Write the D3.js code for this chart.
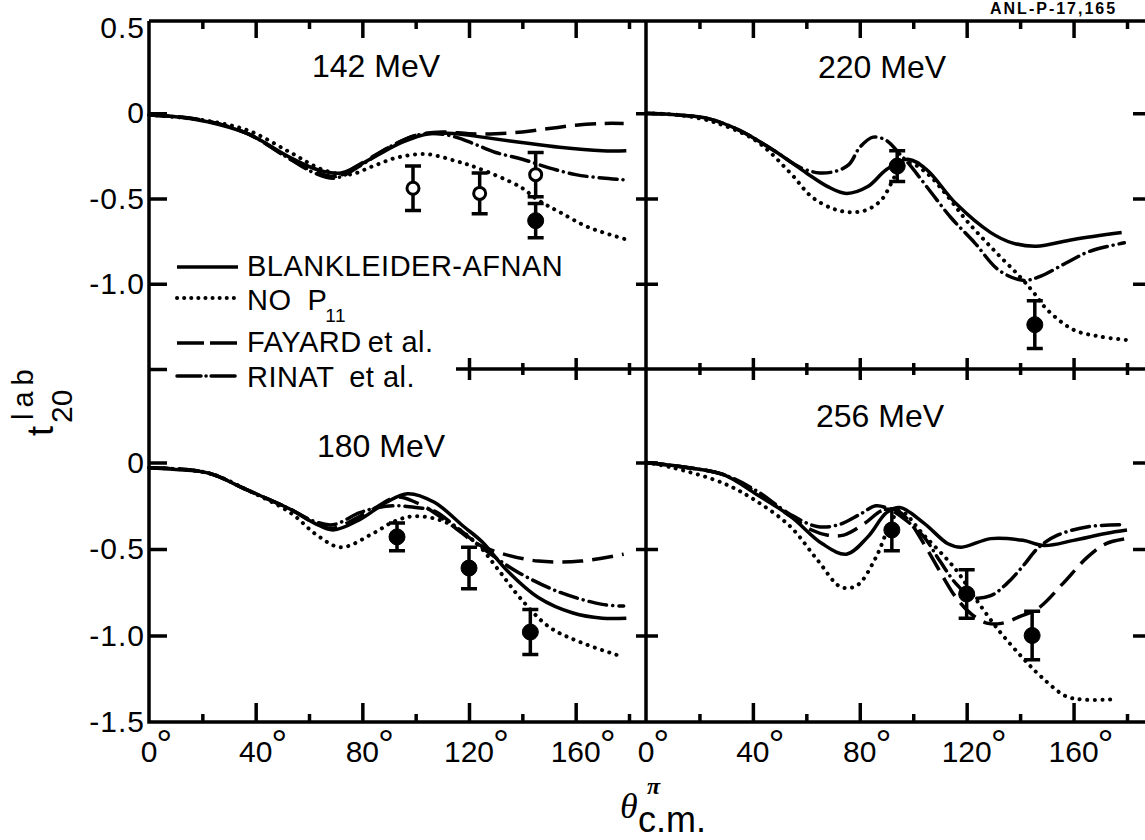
<!DOCTYPE html>
<html>
<head>
<meta charset="utf-8">
<script src="https://cdn.jsdelivr.net/npm/d3@7"></script>
<style>
body { margin: 0; background: #fff; }
svg { display: block; }
text { font-family: "Liberation Sans", Arial, sans-serif; fill: #000; }
</style>
</head>
<body>
<svg id="chart" width="1145" height="840"></svg>
<script>
// ---------- tick values / labels ----------
var thetaMajor = [40, 80, 120, 160];
var thetaMinor = [20, 60, 100, 140, 180];
var thetaLabels = [0, 40, 80, 120, 160];
var tTicks = [0, -0.5, -1.0];
var topLabelValues = [0.5, 0, -0.5, -1.0];
var topLabels = ["0.5", "0", "-0.5", "-1.0"];
var bottomLabelValues = [0, -0.5, -1.0, -1.5];
var bottomLabels = ["0", "-0.5", "-1.0", "-1.5"];
var legendNames = ["BLANKLEIDER-AFNAN", "NO", "FAYARD", "RINAT"];

// ---------- 142 MeV : [theta, t20] ----------
var mev142_blank = [[0,-0.01],[10,-0.02],[22,-0.05],[37,-0.12],[53,-0.26],[63,-0.33],[72,-0.35],[84,-0.26],[95,-0.17],[105,-0.12],[115,-0.12],[125,-0.14],[139,-0.17],[154,-0.20],[170,-0.22],[179,-0.22]];
var mev142_noP11 = [[0,-0.01],[20,-0.04],[37,-0.10],[53,-0.23],[65,-0.33],[75,-0.36],[84,-0.31],[93,-0.26],[104,-0.24],[115,-0.28],[123,-0.32],[139,-0.43],[146,-0.51],[154,-0.58],[165,-0.67],[179,-0.74]];
var mev142_fayard = [[0,-0.01],[20,-0.04],[37,-0.12],[53,-0.27],[62,-0.34],[70,-0.37],[80,-0.29],[90,-0.20],[100,-0.13],[110,-0.11],[120,-0.12],[130,-0.12],[140,-0.11],[150,-0.09],[160,-0.07],[170,-0.06],[178,-0.06]];
var mev142_rinat = [[0,-0.01],[20,-0.04],[37,-0.12],[53,-0.27],[62,-0.35],[70,-0.38],[80,-0.30],[90,-0.20],[100,-0.13],[108,-0.12],[115,-0.14],[122,-0.18],[130,-0.23],[140,-0.27],[150,-0.32],[160,-0.36],[170,-0.38],[178,-0.39]];
var mev142_open = [[99,-0.44,0.13],[124,-0.47,0.12],[145,-0.36,0.13]];
var mev142_filled = [[145,-0.63,0.10]];

// ---------- 220 MeV ----------
var mev220_blank = [[0,0.0],[12,-0.01],[23,-0.03],[35,-0.10],[48,-0.22],[60,-0.35],[68,-0.43],[75,-0.47],[83,-0.43],[90,-0.33],[98,-0.27],[105,-0.33],[116,-0.53],[129,-0.70],[137,-0.76],[146,-0.78],[160,-0.74],[178,-0.70]];
var mev220_noP11 = [[0,0.0],[12,-0.01],[25,-0.05],[41,-0.16],[54,-0.35],[62,-0.49],[70,-0.56],[76,-0.58],[82,-0.57],[88,-0.51],[94,-0.35],[98,-0.29],[105,-0.35],[112,-0.47],[120,-0.63],[130,-0.80],[140,-0.96],[145,-1.05],[150,-1.15],[160,-1.27],[170,-1.31],[180,-1.33]];
var mev220_rinat = [[0,0.0],[12,-0.01],[23,-0.03],[35,-0.10],[48,-0.22],[58,-0.32],[65,-0.35],[71,-0.34],[76,-0.30],[80,-0.20],[85,-0.14],[90,-0.16],[95,-0.24],[98,-0.29],[106,-0.45],[114,-0.61],[123,-0.76],[132,-0.92],[141,-0.98],[147,-0.96],[157,-0.88],[166,-0.81],[179,-0.76]];
var mev220_filled = [[94,-0.31,0.09],[145.5,-1.24,0.14]];

// ---------- 180 MeV ----------
var mev180_blank = [[0,-0.03],[10,-0.04],[22,-0.06],[37,-0.16],[53,-0.27],[62,-0.35],[69,-0.39],[79,-0.33],[89,-0.23],[97,-0.18],[107,-0.23],[118,-0.37],[125,-0.46],[134,-0.62],[146,-0.78],[159,-0.87],[170,-0.90],[179,-0.90]];
var mev180_noP11 = [[0,-0.03],[22,-0.06],[37,-0.16],[53,-0.29],[63,-0.42],[72,-0.49],[84,-0.41],[92,-0.34],[100,-0.31],[112,-0.35],[123,-0.47],[131,-0.62],[139,-0.78],[150,-0.95],[162,-1.04],[177,-1.12]];
var mev180_fayard = [[0,-0.03],[22,-0.06],[37,-0.16],[53,-0.27],[62,-0.35],[69,-0.38],[78,-0.32],[84,-0.27],[93,-0.20],[100,-0.23],[107,-0.29],[115,-0.38],[123,-0.47],[131,-0.52],[146,-0.57],[162,-0.57],[178,-0.53]];
var mev180_rinat = [[0,-0.03],[22,-0.06],[37,-0.16],[53,-0.27],[62,-0.34],[69,-0.36],[79,-0.29],[86,-0.26],[93,-0.25],[100,-0.26],[107,-0.28],[115,-0.37],[123,-0.47],[130,-0.55],[139,-0.64],[154,-0.75],[170,-0.82],[178,-0.83]];
var mev180_filled = [[93,-0.43,0.08],[120,-0.61,0.12],[143,-0.98,0.13]];

// ---------- 256 MeV ----------
var mev256_blank = [[0,0.0],[16,-0.03],[29,-0.07],[41,-0.18],[54,-0.31],[66,-0.47],[75,-0.53],[83,-0.43],[90,-0.29],[95,-0.26],[104,-0.35],[113,-0.47],[118,-0.49],[129,-0.44],[141,-0.45],[149,-0.48],[160,-0.45],[172,-0.41],[180,-0.39]];
var mev256_noP11 = [[0,0.0],[10,-0.03],[29,-0.12],[41,-0.22],[54,-0.37],[64,-0.56],[73,-0.72],[79,-0.71],[86,-0.55],[91,-0.37],[95,-0.28],[104,-0.42],[116,-0.62],[123,-0.78],[132,-0.97],[141,-1.13],[148,-1.24],[157,-1.35],[163,-1.37],[174,-1.37]];
var mev256_fayard = [[0,0.0],[16,-0.03],[29,-0.07],[41,-0.17],[54,-0.31],[62,-0.39],[68,-0.42],[74,-0.42],[82,-0.35],[88,-0.28],[93,-0.27],[98,-0.33],[104,-0.47],[110,-0.63],[116,-0.78],[122,-0.88],[128,-0.93],[133,-0.93],[140,-0.89],[147,-0.84],[156,-0.70],[165,-0.55],[172,-0.47],[180,-0.44]];
var mev256_rinat = [[0,0.0],[16,-0.03],[29,-0.07],[41,-0.16],[54,-0.30],[64,-0.37],[72,-0.36],[80,-0.30],[86,-0.25],[91,-0.27],[97,-0.33],[104,-0.43],[110,-0.57],[116,-0.70],[122,-0.78],[129,-0.77],[135,-0.70],[141,-0.60],[147,-0.49],[154,-0.42],[166,-0.37],[179,-0.36]];
var mev256_filled = [[92,-0.39,0.12],[120,-0.76,0.14],[144.5,-1.00,0.14]];

// ---------- scales ----------
var xLeft = d3.scaleLinear().domain([0, 180]).range([149, 629]);
var xRight = d3.scaleLinear().domain([0, 180]).range([646, 1127]);
var yTop = d3.scaleLinear().domain([-1.5, 0.5]).range([369, 28]);
var yBottom = d3.scaleLinear().domain([-1.5, 0.5]).range([722, 376]);

var frame = { left: 149, mid: 646, right: 1148, top: 21, middle: 369, bottom: 722 };

// line styles
var styles = {
    blank:  { dash: null, cap: "butt", width: 3.5 },
    noP11:  { dash: "0.1 7.5", cap: "round", width: 4 },
    fayard: { dash: "21 9", cap: "butt", width: 3.5 },
    rinat:  { dash: "18 6 0.1 6", cap: "round", width: 3.5 }
};

var panels = [
    { title: "142 MeV", tx: 376, ty: 77, x: xLeft, y: yTop,
      curves: [["blank", mev142_blank], ["noP11", mev142_noP11], ["fayard", mev142_fayard], ["rinat", mev142_rinat]],
      open: mev142_open, filled: mev142_filled },
    { title: "220 MeV", tx: 882, ty: 78, x: xRight, y: yTop,
      curves: [["blank", mev220_blank], ["noP11", mev220_noP11], ["rinat", mev220_rinat]],
      open: [], filled: mev220_filled },
    { title: "180 MeV", tx: 381, ty: 457, x: xLeft, y: yBottom,
      curves: [["blank", mev180_blank], ["noP11", mev180_noP11], ["fayard", mev180_fayard], ["rinat", mev180_rinat]],
      open: [], filled: mev180_filled },
    { title: "256 MeV", tx: 880, ty: 427, x: xRight, y: yBottom,
      curves: [["blank", mev256_blank], ["noP11", mev256_noP11], ["fayard", mev256_fayard], ["rinat", mev256_rinat]],
      open: [], filled: mev256_filled }
];

var svg = d3.select("#chart");

// ---------- frame lines ----------
var framePath = [
    "M" + frame.left + "," + frame.top + "H" + frame.right,
    "M" + frame.left + "," + frame.top + "V" + frame.bottom + "H" + frame.right,
    "M" + frame.mid + "," + frame.top + "V" + frame.bottom,
    "M" + frame.right + "," + frame.top + "V" + frame.bottom,
    "M456," + frame.middle + "H" + frame.right
].join("");

svg.append("path")
    .attr("d", framePath)
    .attr("fill", "none")
    .attr("stroke", "#000")
    .attr("stroke-width", 3.5);

// ticks only, drawn with d3 axes
function tickAxis(axis, transform) {
    var g = svg.append("g").attr("transform", transform).call(axis);
    g.select(".domain").remove();
    g.selectAll(".tick line").attr("stroke", "#000").attr("stroke-width", 3.5);
    g.selectAll(".tick text").remove();
    return g;
}

[xLeft, xRight].forEach(function (x) {
    // bottom axis, ticks up
    tickAxis(d3.axisBottom(x).tickValues(thetaMajor).tickSize(-19), "translate(0," + frame.bottom + ")");
    tickAxis(d3.axisBottom(x).tickValues(thetaMinor).tickSize(-8), "translate(0," + frame.bottom + ")");
    // top border, ticks down
    tickAxis(d3.axisTop(x).tickValues(thetaMajor).tickSize(-17), "translate(0," + frame.top + ")");
    tickAxis(d3.axisTop(x).tickValues(thetaMinor).tickSize(-8), "translate(0," + frame.top + ")");
});

// shared middle line, ticks on both sides (left panel only where the line is drawn)
var midMajorL = thetaMajor.filter(function (d) { return d >= 120; });
var midMinorL = thetaMinor.filter(function (d) { return d >= 140; });
[[xLeft, midMajorL, midMinorL], [xRight, thetaMajor, thetaMinor]].forEach(function (p) {
    tickAxis(d3.axisBottom(p[0]).tickValues(p[1]).tickSize(11), "translate(0," + frame.middle + ")");
    tickAxis(d3.axisTop(p[0]).tickValues(p[1]).tickSize(11), "translate(0," + frame.middle + ")");
    tickAxis(d3.axisBottom(p[0]).tickValues(p[2]).tickSize(6), "translate(0," + frame.middle + ")");
    tickAxis(d3.axisTop(p[0]).tickValues(p[2]).tickSize(6), "translate(0," + frame.middle + ")");
});

// vertical axes
tickAxis(d3.axisLeft(yTop).tickValues(tTicks.concat([-1.5])).tickSize(-18), "translate(" + frame.left + ",0)");
tickAxis(d3.axisLeft(yBottom).tickValues(tTicks).tickSize(-18), "translate(" + frame.left + ",0)");
[yTop, yBottom].forEach(function (y) {
    tickAxis(d3.axisLeft(y).tickValues(tTicks).tickSize(10), "translate(" + frame.mid + ",0)");
    tickAxis(d3.axisRight(y).tickValues(tTicks).tickSize(12), "translate(" + frame.mid + ",0)");
    tickAxis(d3.axisLeft(y).tickValues(tTicks).tickSize(15), "translate(" + frame.right + ",0)");
});

// y tick labels
function labelAxis(y, values, labels) {
    var g = svg.append("g")
        .attr("transform", "translate(" + frame.left + ",0)")
        .call(d3.axisLeft(y).tickValues(values).tickSize(0).tickPadding(4)
            .tickFormat(function (d, i) { return labels[i]; }));
    g.select(".domain").remove();
    g.selectAll(".tick text")
        .attr("fill", "#000")
        .style("font-family", '"Liberation Sans", Arial, sans-serif')
        .style("font-size", "30px")
        .style("letter-spacing", "1px");
    g.attr("font-family", null).attr("font-size", null);
}
labelAxis(yTop, topLabelValues, topLabels);
labelAxis(yBottom, bottomLabelValues, bottomLabels);

// x tick labels with degree signs
[xLeft, xRight].forEach(function (x) {
    thetaLabels.forEach(function (t) {
        var num = svg.append("text")
            .attr("x", x(t))
            .attr("y", 762)
            .attr("text-anchor", "middle")
            .style("font-size", "30px")
            .text(t);
        var w = num.node().getComputedTextLength();
        svg.append("text")
            .attr("x", x(t) + w / 2 - 1)
            .attr("y", 758)
            .style("font-size", "40px")
            .text("\u00B0");
    });
});

// ---------- curves and data ----------
panels.forEach(function (p) {
    var line = d3.line()
        .x(function (d) { return p.x(d[0]); })
        .y(function (d) { return p.y(d[1]); })
        .curve(d3.curveCatmullRom.alpha(0.5));

    var g = svg.append("g");

    p.curves.forEach(function (c) {
        var s = styles[c[0]];
        g.append("path")
            .attr("d", line(c[1]))
            .attr("fill", "none")
            .attr("stroke", "#000")
            .attr("stroke-width", s.width)
            .attr("stroke-linecap", s.cap)
            .attr("stroke-dasharray", s.dash);
    });

    var pts = p.open.map(function (d) { return { d: d, open: true }; })
        .concat(p.filled.map(function (d) { return { d: d, open: false }; }));

    // error bars
    pts.forEach(function (pt) {
        var cx = p.x(pt.d[0]);
        var y1 = p.y(pt.d[1] + pt.d[2]);
        var y2 = p.y(pt.d[1] - pt.d[2]);
        g.append("path")
            .attr("d", "M" + cx + "," + y1 + "V" + y2 +
                "M" + (cx - 8) + "," + y1 + "H" + (cx + 8) +
                "M" + (cx - 8) + "," + y2 + "H" + (cx + 8))
            .attr("fill", "none")
            .attr("stroke", "#000")
            .attr("stroke-width", 3.5);
    });

    pts.forEach(function (pt) {
        g.append("circle")
            .attr("cx", p.x(pt.d[0]))
            .attr("cy", p.y(pt.d[1]))
            .attr("r", pt.open ? 6 : 8)
            .attr("fill", pt.open ? "#fff" : "#000")
            .attr("stroke", "#000")
            .attr("stroke-width", pt.open ? 3 : 1);
    });

    svg.append("text")
        .attr("x", p.tx)
        .attr("y", p.ty)
        .attr("text-anchor", "middle")
        .style("font-size", "32px")
        .text(p.title);
});

// ---------- legend ----------
var legend = svg.append("g");
var legendSym = [267, 298, 343, 376];
var legendBase = [276, 310, 352, 387];
var legendStyle = ["blank", "noP11", "fayard", "rinat"];
var legendDash = [null, "0.1 7", "27 6", "24 5 0.1 5"];

legendStyle.forEach(function (k, i) {
    legend.append("path")
        .attr("d", "M177," + legendSym[i] + "H238")
        .attr("stroke", "#000")
        .attr("stroke-width", styles[k].width)
        .attr("stroke-linecap", styles[k].cap)
        .attr("stroke-dasharray", legendDash[i]);
});

var lt = function (i) {
    return legend.append("text")
        .attr("x", 247)
        .attr("y", legendBase[i])
        .style("font-size", "29px")
        .style("letter-spacing", "0.5px");
};
lt(0).text(legendNames[0]);
var t1 = lt(1).text(legendNames[1]);
t1.append("tspan").attr("dx", 16).text("P");
t1.append("tspan").attr("dx", -2).attr("dy", 12).style("font-size", "19px").text("11");
var t2 = lt(2).text(legendNames[2]);
t2.append("tspan").attr("dx", 6).text("et al.");
var t3 = lt(3).text(legendNames[3]);
t3.append("tspan").attr("dx", 18).text("et al.");

// ---------- axis titles ----------
var ylab = svg.append("g").attr("transform", "translate(53,436) rotate(-90)");
ylab.append("text").attr("x", 0).attr("y", 0).style("font-size", "36px").text("t");
ylab.append("text").attr("x", 16).attr("y", -20).style("font-size", "29px")
    .style("letter-spacing", "6px").text("lab");
ylab.append("text").attr("x", 13).attr("y", 19).style("font-size", "30px").text("20");

svg.append("text")
    .attr("x", 620).attr("y", 818)
    .style("font-family", '"Liberation Serif", serif')
    .style("font-style", "italic")
    .style("font-size", "36px")
    .text("\u03B8");
svg.append("text")
    .attr("x", 647).attr("y", 794)
    .style("font-family", '"Liberation Serif", serif')
    .style("font-style", "italic")
    .style("font-weight", "bold")
    .style("font-size", "24px")
    .text("\u03C0");
svg.append("text")
    .attr("x", 638).attr("y", 832)
    .style("font-size", "36px")
    .text("c.m.");

// report number (cut off in the scan, kept small here)
svg.append("text")
    .attr("x", 990).attr("y", 14)
    .style("font-size", "16px")
    .style("font-weight", "bold")
    .style("letter-spacing", "2px")
    .text("ANL-P-17,165");
</script>
</body>
</html>
